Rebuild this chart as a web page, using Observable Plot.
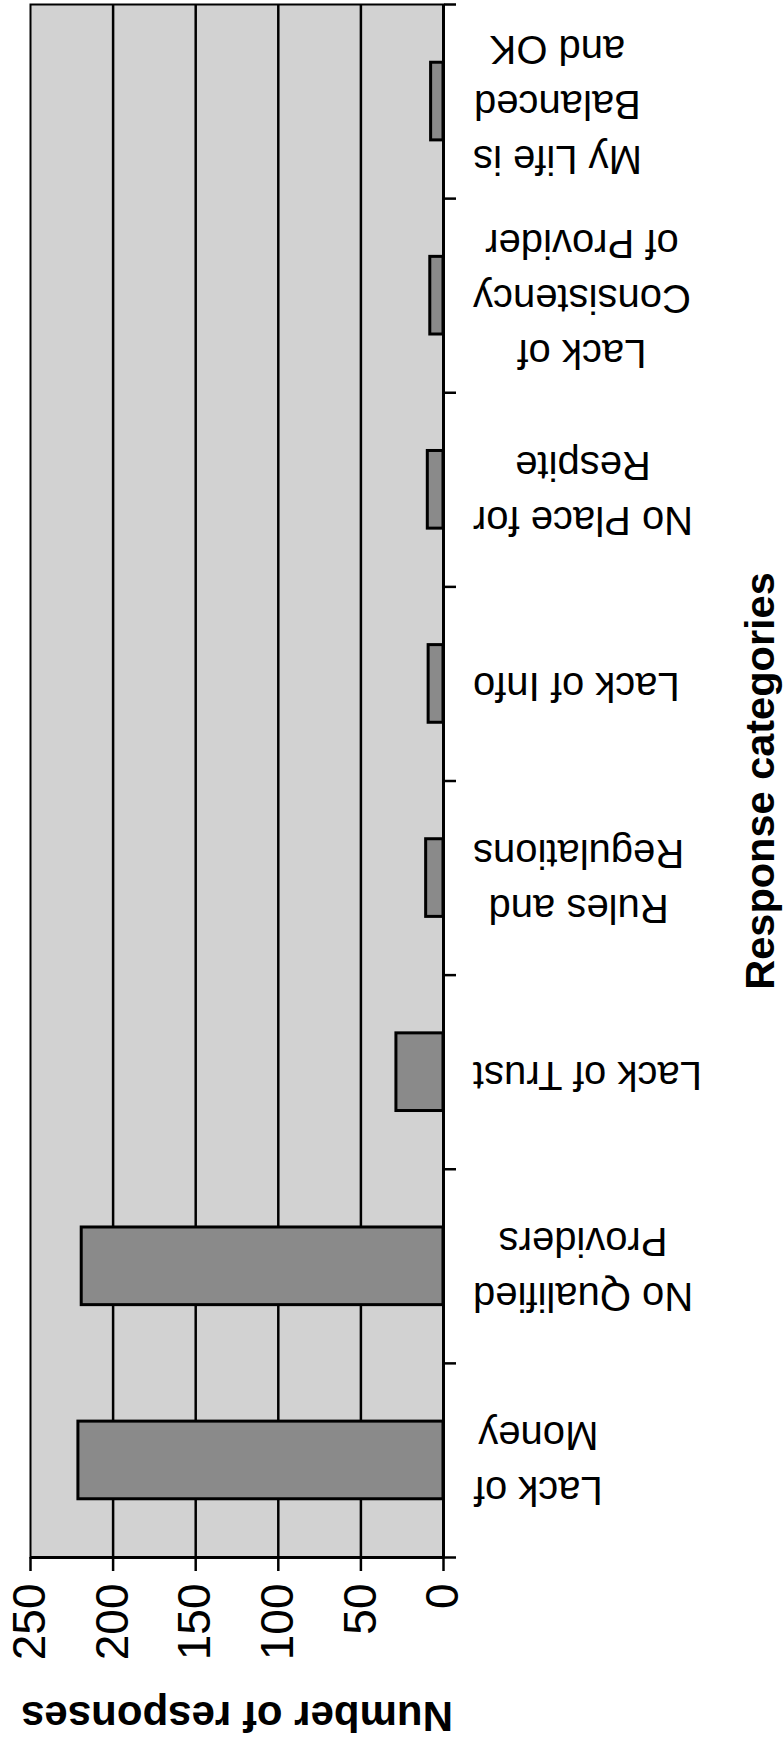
<!DOCTYPE html>
<html>
<head>
<meta charset="utf-8">
<script src="https://cdn.jsdelivr.net/npm/d3@7"></script>
<script src="https://cdn.jsdelivr.net/npm/@observablehq/plot@0.6"></script>
<style>
  html, body { margin: 0; padding: 0; background: #fff; overflow: hidden; }
</style>
</head>
<body>
<div id="chart"></div>
<script>
// ---- data ----
const categories = [
  "Lack of Money",
  "No Qualified Providers",
  "Lack of Trust",
  "Rules and Regulations",
  "Lack of Info",
  "No Place for Respite",
  "Lack of Consistency of Provider",
  "My Life is Balanced and OK"
];
const categoryLabels = [
  "Lack of\nMoney",
  "No Qualified\nProviders",
  "Lack of Trust",
  "Rules and\nRegulations",
  "Lack of Info",
  "No Place for\nRespite",
  "Lack of\nConsistency\nof Provider",
  "My Life is\nBalanced\nand OK"
];
const responses = [221, 219, 28.5, 10.5, 9, 9.5, 8, 7.5];
const valueTicks = [0, 50, 100, 150, 200, 250];
const gridValues = [50, 100, 150, 200];
const valueDomain = [0, 250];
const valueTitle = "Number of responses";
const categoryTitle = "Response categories";

// ---- build ----
const FONT = "'Liberation Sans', Arial, Helvetica, sans-serif";
const data = categories.map((c, i) => ({i, category: c, label: categoryLabels[i], value: responses[i]}));
const bounds = d3.range(categories.length + 1);

const chart = Plot.plot({
  width: 784,
  height: 1739,
  marginLeft: 30,
  marginRight: 341,
  marginTop: 4,
  marginBottom: 182,
  style: {fontFamily: FONT, background: "#fff", color: "#000", overflow: "visible"},
  x: {domain: valueDomain, reverse: true},
  y: {domain: [0, categories.length]},
  marks: [
    Plot.frame({fill: "#d2d2d2", stroke: "#000", strokeWidth: 2}),
    Plot.ruleX(gridValues, {stroke: "#000", strokeWidth: 2.5}),
    Plot.rect(data, {
      x1: 0, x2: "value",
      y1: d => d.i + 0.3, y2: d => d.i + 0.7,
      fill: "#8a8a8a", stroke: "#000", strokeWidth: 3
    }),
    Plot.ruleY([0], {stroke: "#000", strokeWidth: 3}),
    Plot.ruleX([0], {stroke: "#000", strokeWidth: 3}),
    Plot.axisX(valueTicks, {
      anchor: "bottom", tickSize: 14, tickPadding: 12, tickRotate: -90,
      textAnchor: "end", lineAnchor: "middle", fontSize: 46, label: null, strokeWidth: 2.5
    }),
    Plot.axisY(bounds, {
      anchor: "right", tickSize: 12, tickFormat: () => "", label: null, strokeWidth: 2.5
    }),
    Plot.text(data, {
      x: 0, y: d => d.i + 0.5, text: "label", rotate: 180, dy: 7,
      fontSize: 40, lineHeight: 1.375, textAnchor: "middle", lineAnchor: "middle", fill: "#000"
    }),
    Plot.text([categoryTitle], {
      frameAnchor: "right", rotate: -90, dx: 317, textAnchor: "middle", lineAnchor: "middle",
      fontSize: 41.5, fontWeight: "bold", fill: "#000"
    }),
    Plot.text([valueTitle], {
      frameAnchor: "bottom", rotate: 180, dy: 158, textAnchor: "middle", lineAnchor: "middle",
      fontSize: 42, fontWeight: "bold", fill: "#000"
    })
  ]
});

document.getElementById("chart").append(chart);

// Align each category label block so its visual left edge sits at a fixed distance from the axis
const targetLeft = 473;
const svgRect = chart.getBoundingClientRect();
const textGroups = chart.querySelectorAll('g[aria-label="text"]');
if (textGroups.length) {
  textGroups[0].querySelectorAll("text").forEach(el => {
    const r = el.getBoundingClientRect();
    const shift = targetLeft - (r.left - svgRect.left);
    el.setAttribute("transform", `translate(${shift},0) ` + (el.getAttribute("transform") || ""));
  });
}
</script>
</body>
</html>
